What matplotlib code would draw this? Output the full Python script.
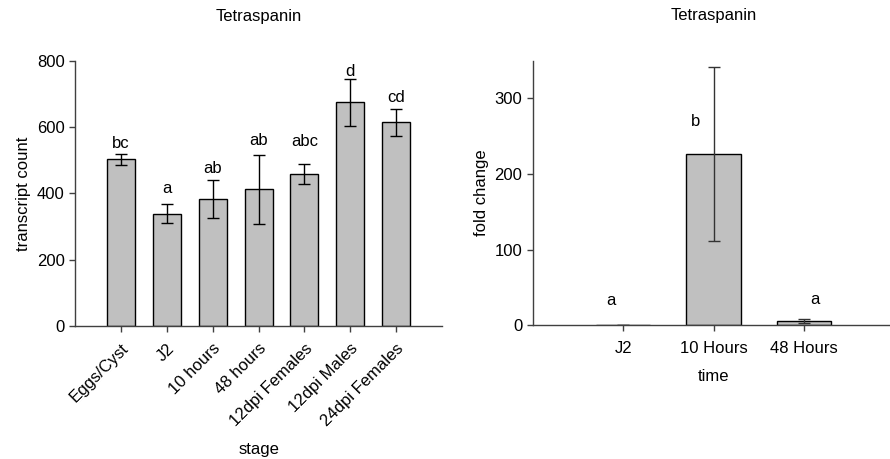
import matplotlib.pyplot as plt

plt.rcParams["font.family"] = ["Liberation Sans", "DejaVu Sans"]
plt.rcParams["font.size"] = 12

# left panel: transcript count per stage
stages = ["Eggs/Cyst", "J2", "10 hours", "48 hours", "12dpi Females", "12dpi Males", "24dpi Females"]
counts = [503, 338, 384, 412, 458, 675, 615]
count_err = [17, 29, 57, 105, 31, 72, 41]
stage_letters = ["bc", "a", "ab", "ab", "abc", "d", "cd"]
stage_letter_y = [551, 415, 475, 559, 556, 768, 690]

# right panel: fold change over time
times = ["J2", "10 Hours", "48 Hours"]
fold = [1, 227, 6]
fold_err = [0, 115, 2.5]
time_letters = ["a", "b", "a"]
time_letter_y = [33, 270, 34]
time_letter_dx = [-0.14, -0.2, 0.12]

bar_color = "#c0c0c0"
spine_color = "#404040"

fig = plt.figure(figsize=(8.9, 4.59), dpi=100)
ax1 = fig.add_axes([0.0843, 0.2904, 0.4124, 0.5767])
ax2 = fig.add_axes([0.5985, 0.2913, 0.4067, 0.5765])

for ax in (ax1, ax2):
    for s in ("top", "right"):
        ax.spines[s].set_visible(False)
    for s in ("left", "bottom"):
        ax.spines[s].set_color(spine_color)
        ax.spines[s].set_linewidth(1)
    ax.tick_params(direction="out", length=4, width=1, color=spine_color, labelsize=12)

# left
x1 = range(len(stages))
ax1.bar(x1, counts, width=0.61, color=bar_color, edgecolor="black", linewidth=1)
ax1.errorbar(x1, counts, yerr=count_err, fmt="none", ecolor="black", elinewidth=1, capsize=4, capthick=1)
for i, (lab, y) in enumerate(zip(stage_letters, stage_letter_y)):
    ax1.text(i, y, lab, ha="center", va="center", fontsize=12)
ax1.set_xlim(-1, len(stages))
ax1.set_ylim(0, 800)
ax1.set_yticks([0, 200, 400, 600, 800])
ax1.set_xticks(list(x1))
ax1.set_xticklabels(stages, rotation=45, ha="right", rotation_mode="anchor")
ax1.tick_params(axis="x", pad=7)
ax1.set_ylabel("transcript count", fontsize=12)
ax1.set_xlabel("stage", fontsize=12, labelpad=9)
ax1.set_title("Tetraspanin", fontsize=12, pad=29)

# right
x2 = range(len(times))
ax2.bar(x2, fold, width=0.6, color=bar_color, edgecolor="black", linewidth=1)
ax2.errorbar(x2, fold, yerr=fold_err, fmt="none", ecolor="#333333", elinewidth=1, capsize=4, capthick=1)
for i, (lab, y, dx) in enumerate(zip(time_letters, time_letter_y, time_letter_dx)):
    ax2.text(i + dx, y, lab, ha="center", va="center", fontsize=12)
ax2.set_xlim(-1, len(times))
ax2.set_ylim(0, 350)
ax2.set_yticks([0, 100, 200, 300])
ax2.set_xticks(list(x2))
ax2.set_xticklabels(times)
ax2.tick_params(axis="x", pad=7)
ax2.set_ylabel("fold change", fontsize=12)
ax2.set_xlabel("time", fontsize=12, labelpad=10)
ax2.set_title("Tetraspanin", fontsize=12, pad=29)

fig.savefig("out.png", dpi=100)
